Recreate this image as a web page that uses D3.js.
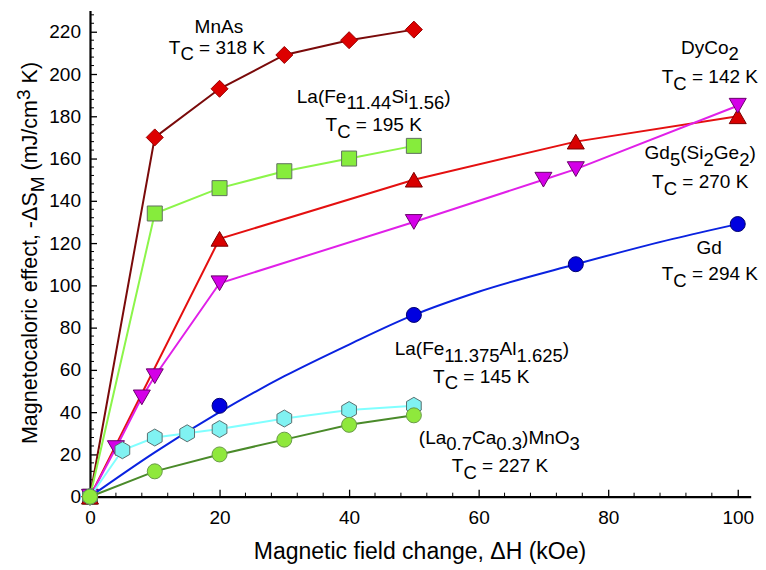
<!DOCTYPE html>
<html>
<head>
<meta charset="utf-8">
<style>
  body { margin: 0; background: #fff; }
  text { font-family: "Liberation Sans", Arial, sans-serif; fill: #000; }
</style>
</head>
<body>
<script src="https://d3js.org/d3.v7.min.js"></script>
<script>
// data (field change in kOe, -dS_M in mJ/cm3 K)
var fieldMnAs = [0, 10, 20, 30, 40, 50];
var dsMnAs = [0, 170, 193, 209, 216, 221];

var fieldLaFeSi = [0, 10, 20, 30, 40, 50];
var dsLaFeSi = [0, 134, 146, 154, 160, 166];

var fieldGd5 = [0, 20, 50, 75, 100];
var dsGd5 = [0, 122, 150, 168, 180];

var fieldDyCo2 = [0, 4, 8, 10, 20, 50, 70, 75, 100];
var dsDyCo2 = [0, 23, 47, 57, 101, 130, 150, 155, 185];

var fieldGd = [0, 20, 50, 75, 100];
var dsGd = [0, 43, 86, 110, 129];
// smooth curve drawn through the Gd data
var fieldGdCurve = [0, 10, 20, 30, 40, 50, 60, 75, 90, 100];
var dsGdCurve = [0, 21, 40, 57, 72, 86, 97, 110, 122, 129];

var fieldLaFeAl = [0, 5, 10, 15, 20, 30, 40, 50];
var dsLaFeAl = [0, 22, 28, 30, 32, 37, 41, 43];

var fieldLaCaMnO = [0, 10, 20, 30, 40, 50];
var dsLaCaMnO = [0, 12, 20, 27, 34, 38.5];

var xTicks = [0, 20, 40, 60, 80, 100];
var yTicks = [0, 20, 40, 60, 80, 100, 120, 140, 160, 180, 200, 220];

var width = 766, height = 570;

var svg = d3.select("body").append("svg")
  .attr("width", width)
  .attr("height", height);

var x = d3.scaleLinear().domain([0, 102]).range([90, 750.7]);
var y = d3.scaleLinear().domain([0, 230]).range([496.7, 10.6]);

function zip(xs, ys) {
  return xs.map(function(v, i) { return [v, ys[i]]; });
}

// custom marker shapes, size = half width
var diamond = { draw: function(c, r) {
  c.moveTo(0, -r); c.lineTo(r, 0); c.lineTo(0, r); c.lineTo(-r, 0); c.closePath();
}};
var square = { draw: function(c, r) {
  c.rect(-r, -r, 2 * r, 2 * r);
}};
var triUp = { draw: function(c, r) {
  var h = r * Math.sqrt(3);
  c.moveTo(0, -h / 2); c.lineTo(r, h / 2); c.lineTo(-r, h / 2); c.closePath();
}};
var triDown = { draw: function(c, r) {
  var h = r * Math.sqrt(3);
  c.moveTo(0, h / 2); c.lineTo(r, -h / 2); c.lineTo(-r, -h / 2); c.closePath();
}};
var circle = { draw: function(c, r) {
  c.moveTo(r, 0); c.arc(0, 0, r, 0, 2 * Math.PI);
}};
var hexagon = { draw: function(c, r) {
  for (var i = 0; i < 6; i++) {
    var a = -Math.PI / 2 + i * Math.PI / 3;
    if (i == 0) c.moveTo(r * Math.cos(a), r * Math.sin(a));
    else c.lineTo(r * Math.cos(a), r * Math.sin(a));
  }
  c.closePath();
}};

var series = [
  {pts: zip(fieldMnAs, dsMnAs), line: "#7a0a0a", fill: "#dd0000", stroke: "#9a0000", shape: diamond, r: 8.5},
  {pts: zip(fieldLaFeSi, dsLaFeSi), line: "#8cf54a", fill: "#86ec3c", stroke: "#607060", shape: square, r: 7.5},
  {pts: zip(fieldGd5, dsGd5), line: "#e41010", fill: "#d80000", stroke: "#7a0000", shape: triUp, r: 8.5},
  {pts: zip(fieldDyCo2, dsDyCo2), line: "#e020e8", fill: "#d400e8", stroke: "#6a006a", shape: triDown, r: 8.5},
  {pts: zip(fieldGd, dsGd), curve: zip(fieldGdCurve, dsGdCurve), line: "#0a22e0", fill: "#0000e0", stroke: "#000070", shape: circle, r: 7.5},
  {pts: zip(fieldLaFeAl, dsLaFeAl), line: "#80ffff", fill: "#80f2f2", stroke: "#5a7070", shape: hexagon, r: 8.5},
  {pts: zip(fieldLaCaMnO, dsLaCaMnO), line: "#4a8a2a", fill: "#8fe83c", stroke: "#6a9a4a", shape: circle, r: 7.5}
];

// axes
var xAxis = d3.axisBottom(x).tickValues(xTicks).tickSize(-7).tickSizeOuter(0).tickPadding(14);
var yAxis = d3.axisLeft(y).tickValues(yTicks).tickSize(-7).tickSizeOuter(0).tickPadding(9);

var minorX = d3.range(4, 101, 4).filter(function(v) { return v % 20 != 0; });
var minorY = d3.range(4, 229, 4).filter(function(v) { return v % 20 != 0; });

svg.append("g").selectAll("line").data(minorX).enter().append("line")
  .attr("x1", function(d) { return x(d); }).attr("x2", function(d) { return x(d); })
  .attr("y1", y(0)).attr("y2", y(0) - 4)
  .attr("stroke", "#000").attr("stroke-width", 1);
svg.append("g").selectAll("line").data(minorY).enter().append("line")
  .attr("y1", function(d) { return y(d); }).attr("y2", function(d) { return y(d); })
  .attr("x1", x(0)).attr("x2", x(0) + 4)
  .attr("stroke", "#000").attr("stroke-width", 1);

var gx = svg.append("g").attr("transform", "translate(0," + y(0) + ")").call(xAxis);
var gy = svg.append("g").attr("transform", "translate(" + x(0) + ",0)").call(yAxis);
[gx, gy].forEach(function(g) {
  g.select(".domain").attr("stroke-width", 2.2);
  g.selectAll(".tick line").attr("stroke-width", 1.3);
  g.selectAll(".tick text").style("font-size", "19px").style("font-family", "Liberation Sans, Arial, sans-serif");
});

// series: line then markers
var line = d3.line().x(function(d) { return x(d[0]); }).y(function(d) { return y(d[1]); });
var smooth = d3.line().curve(d3.curveMonotoneX).x(function(d) { return x(d[0]); }).y(function(d) { return y(d[1]); });

series.forEach(function(s) {
  svg.append("path")
    .attr("d", s.curve ? smooth(s.curve) : line(s.pts))
    .attr("fill", "none")
    .attr("stroke", s.line)
    .attr("stroke-width", 2);
  svg.append("g").selectAll("path").data(s.pts).enter().append("path")
    .attr("d", d3.symbol().type(s.shape).size(s.r))
    .attr("transform", function(d) { return "translate(" + x(d[0]) + "," + y(d[1]) + ")"; })
    .attr("fill", s.fill)
    .attr("stroke", s.stroke)
    .attr("stroke-width", 1);
});

// annotations: text pieces [text, "n" | "sub" | "sup"], placed at data coordinates
var notes = [
  {at: [19.9, 219.4], parts: [["MnAs", "n"]]},
  {at: [19.6, 209.5], parts: [["T", "n"], ["C", "sub"], [" = 318 K", "n"]]},
  {at: [43.8, 186.3], parts: [["La(Fe", "n"], ["11.44", "sub"], ["Si", "n"], ["1.56", "sub"], [")", "n"]]},
  {at: [43.8, 173.0], parts: [["T", "n"], ["C", "sub"], [" = 195 K", "n"]]},
  {at: [95.7, 209.5], parts: [["DyCo", "n"], ["2", "sub"]]},
  {at: [95.7, 195.7], parts: [["T", "n"], ["C", "sub"], [" = 142 K", "n"]]},
  {at: [94.2, 159.7], parts: [["Gd", "n"], ["5", "sub"], ["(Si", "n"], ["2", "sub"], ["Ge", "n"], ["2", "sub"], [")", "n"]]},
  {at: [94.2, 146.0], parts: [["T", "n"], ["C", "sub"], [" = 270 K", "n"]]},
  {at: [95.6, 114.8], parts: [["Gd", "n"]]},
  {at: [95.7, 102.5], parts: [["T", "n"], ["C", "sub"], [" = 294 K", "n"]]},
  {at: [60.5, 67.0], parts: [["La(Fe", "n"], ["11.375", "sub"], ["Al", "n"], ["1.625", "sub"], [")", "n"]]},
  {at: [60.4, 53.8], parts: [["T", "n"], ["C", "sub"], [" = 145 K", "n"]]},
  {at: [63.2, 25.0], parts: [["(La", "n"], ["0.7", "sub"], ["Ca", "n"], ["0.3", "sub"], [")MnO", "n"], ["3", "sub"]]},
  {at: [63.3, 11.6], parts: [["T", "n"], ["C", "sub"], [" = 227 K", "n"]]}
];

function richText(t, parts, size, small, shift) {
  var cur = 0;
  parts.forEach(function(p) {
    var target = p[1] == "sub" ? shift : (p[1] == "sup" ? -shift : 0);
    t.append("tspan")
      .attr("dy", target - cur)
      .style("font-size", (p[1] == "n" ? size : small) + "px")
      .text(p[0]);
    cur = target;
  });
}

notes.forEach(function(n) {
  var t = svg.append("text")
    .attr("x", x(n.at[0]))
    .attr("y", y(n.at[1]))
    .attr("text-anchor", "middle")
    .style("font-size", "19px");
  richText(t, n.parts, 19, 18.5, 6.5);
});

// axis titles
var xt = svg.append("text")
  .attr("x", 420).attr("y", 559)
  .attr("text-anchor", "middle")
  .style("font-size", "23px");
richText(xt, [["Magnetic field change, \u0394H (kOe)", "n"]], 23, 17, 7);

var yt = svg.append("text")
  .attr("transform", "translate(37,253) rotate(-90)")
  .attr("text-anchor", "middle")
  .style("font-size", "21.5px");
richText(yt, [["Magnetocaloric effect, -\u0394S", "n"], ["M", "sub"], [" (mJ/cm", "n"], ["3", "sup"], [" K)", "n"]], 21.5, 19, 7);
</script>
</body>
</html>
